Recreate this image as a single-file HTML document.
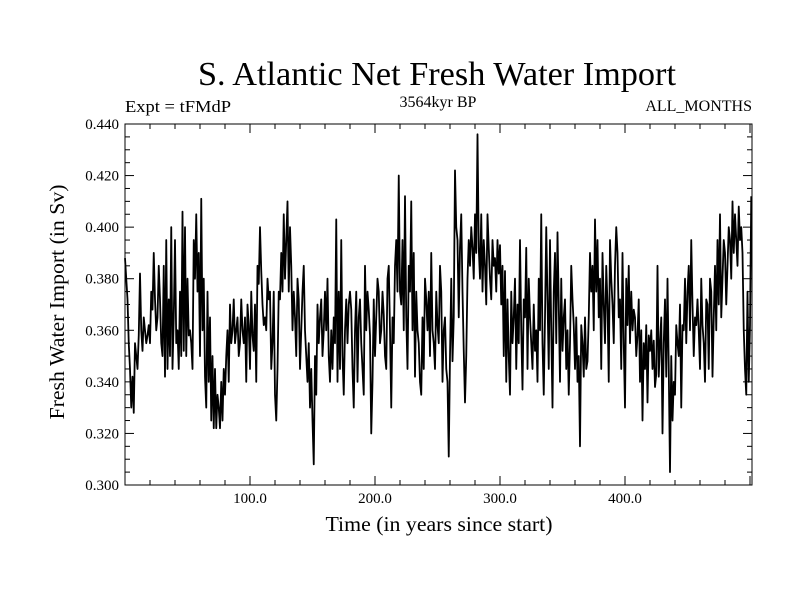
<!DOCTYPE html>
<html><head><meta charset="utf-8"><style>
body{margin:0;background:#fff;}
svg{display:block;font-family:"Liberation Serif",serif;}
</style></head><body>
<svg id="chart" width="800" height="600">
<text x="437" y="85" font-size="34" text-anchor="middle" textLength="478" lengthAdjust="spacingAndGlyphs">S. Atlantic Net Fresh Water Import</text>
<text x="125" y="112" font-size="17" textLength="106" lengthAdjust="spacingAndGlyphs">Expt = tFMdP</text>
<text x="438" y="107" font-size="16" text-anchor="middle">3564kyr BP</text>
<text x="752" y="111" font-size="16" text-anchor="end">ALL_MONTHS</text>
<text x="439" y="531" font-size="21" text-anchor="middle" textLength="227" lengthAdjust="spacingAndGlyphs">Time (in years since start)</text>
<text transform="translate(64,302) rotate(-90)" font-size="21" text-anchor="middle" textLength="235" lengthAdjust="spacingAndGlyphs">Fresh Water Import (in Sv)</text>
<g id="axes"></g>
<rect x="125" y="124" width="627" height="361" fill="none" stroke="#000" stroke-width="1"/>
</svg>
<script>
const startYear = 0;
const endYear = 501;
const xTicks = [100, 200, 300, 400];
const xTickLabels = ["100.0", "200.0", "300.0", "400.0"];
const yTicks = [0.30, 0.32, 0.34, 0.36, 0.38, 0.40, 0.42, 0.44];
const yTickLabels = ["0.300","0.320","0.340","0.360","0.380","0.400","0.420","0.440"];
const values = [
0.388,0.380,0.372,0.355,0.345,0.330,0.342,0.328,0.355,0.350,0.345,0.358,0.382,0.360,0.352,0.365,0.360,0.355,0.358,0.362,0.355,0.375,0.368,0.390,0.372,0.360,0.365,0.385,0.372,0.355,
0.350,0.385,0.342,0.395,0.345,0.372,0.350,0.400,0.345,0.365,0.395,0.355,0.360,0.345,0.375,0.350,0.406,0.352,0.400,0.350,0.380,0.358,0.360,0.355,0.345,0.395,0.380,0.405,0.375,0.390,
0.350,0.411,0.360,0.380,0.342,0.330,0.375,0.340,0.365,0.325,0.350,0.322,0.345,0.322,0.335,0.330,0.322,0.340,0.325,0.345,0.335,0.350,0.360,0.340,0.370,0.355,0.360,0.372,0.355,0.360,
0.365,0.350,0.355,0.372,0.360,0.355,0.365,0.340,0.370,0.362,0.345,0.375,0.358,0.352,0.370,0.340,0.385,0.378,0.400,0.383,0.370,0.362,0.365,0.360,0.380,0.372,0.375,0.345,0.355,0.375,
0.335,0.325,0.345,0.375,0.372,0.390,0.375,0.405,0.380,0.395,0.410,0.375,0.400,0.385,0.360,0.375,0.365,0.350,0.380,0.372,0.345,0.360,0.375,0.385,0.360,0.350,0.340,0.355,0.330,0.345,
0.325,0.308,0.350,0.335,0.370,0.355,0.365,0.372,0.350,0.360,0.375,0.360,0.380,0.350,0.340,0.360,0.345,0.365,0.355,0.403,0.340,0.375,0.345,0.395,0.350,0.335,0.360,0.372,0.355,0.370,
0.375,0.368,0.345,0.330,0.360,0.375,0.340,0.365,0.372,0.355,0.345,0.335,0.385,0.360,0.375,0.368,0.358,0.320,0.340,0.372,0.350,0.365,0.380,0.375,0.355,0.360,0.375,0.366,0.350,0.345,
0.380,0.385,0.360,0.330,0.365,0.355,0.385,0.395,0.375,0.420,0.375,0.370,0.395,0.360,0.412,0.365,0.345,0.385,0.375,0.410,0.360,0.390,0.342,0.375,0.360,0.355,0.340,0.335,0.365,0.345,
0.380,0.372,0.360,0.375,0.350,0.390,0.360,0.355,0.345,0.375,0.362,0.355,0.385,0.375,0.340,0.360,0.365,0.345,0.340,0.311,0.350,0.380,0.348,0.365,0.422,0.400,0.395,0.365,0.392,0.405,
0.375,0.352,0.332,0.350,0.380,0.395,0.385,0.400,0.392,0.380,0.405,0.390,0.436,0.392,0.380,0.405,0.375,0.395,0.385,0.370,0.405,0.392,0.380,0.372,0.395,0.385,0.388,0.375,0.395,0.382,
0.393,0.370,0.385,0.350,0.383,0.340,0.372,0.350,0.335,0.375,0.355,0.365,0.380,0.345,0.370,0.355,0.395,0.360,0.337,0.372,0.365,0.392,0.345,0.380,0.365,0.355,0.345,0.370,0.352,0.360,
0.340,0.380,0.360,0.405,0.355,0.335,0.365,0.400,0.372,0.345,0.395,0.360,0.330,0.375,0.390,0.355,0.398,0.370,0.340,0.380,0.352,0.365,0.372,0.345,0.360,0.335,0.355,0.385,0.372,0.362,
0.345,0.365,0.340,0.350,0.315,0.362,0.355,0.342,0.365,0.345,0.348,0.365,0.390,0.375,0.385,0.360,0.403,0.375,0.395,0.365,0.380,0.345,0.390,0.370,0.355,0.385,0.370,0.340,0.395,0.380,
0.370,0.355,0.385,0.400,0.390,0.365,0.372,0.345,0.390,0.355,0.330,0.380,0.362,0.385,0.355,0.375,0.360,0.368,0.365,0.350,0.358,0.372,0.340,0.360,0.325,0.355,0.345,0.362,0.332,0.358,
0.352,0.360,0.345,0.356,0.338,0.343,0.385,0.342,0.355,0.365,0.320,0.355,0.372,0.342,0.380,0.345,0.305,0.350,0.325,0.340,0.335,0.362,0.355,0.350,0.370,0.330,0.362,0.360,0.380,0.355,
0.375,0.385,0.360,0.395,0.370,0.350,0.365,0.362,0.372,0.360,0.345,0.380,0.362,0.355,0.340,0.372,0.370,0.345,0.380,0.375,0.342,0.365,0.385,0.360,0.395,0.370,0.405,0.365,0.380,0.395,
0.390,0.370,0.385,0.400,0.395,0.380,0.410,0.390,0.405,0.395,0.385,0.408,0.395,0.400,0.390,0.360,0.345,0.335,0.375,0.340,0.362,0.412
];
const NS = "http://www.w3.org/2000/svg";
const L = 125, R = 752, T = 124, B = 485;
const xMin = 0, xMax = 501.6, yMin = 0.30, yMax = 0.44;
function xs(v){ return L + (v - xMin) / (xMax - xMin) * (R - L); }
function ys(v){ return B - (v - yMin) / (yMax - yMin) * (B - T); }
const svg = document.getElementById('chart');
const axes = document.getElementById('axes');
function line(x1,y1,x2,y2,name){
  const l = document.createElementNS(NS,'line');
  l.setAttribute('x1',x1); l.setAttribute('y1',y1); l.setAttribute('x2',x2); l.setAttribute('y2',y2);
  l.setAttribute('stroke','#000'); l.setAttribute('stroke-width','1');
  
  
  axes.appendChild(l);
}
function text(x,y,s,anchor,name){
  const t = document.createElementNS(NS,'text');
  t.setAttribute('x',x); t.setAttribute('y',y); t.setAttribute('font-size','15'); t.setAttribute('text-anchor',anchor);
  t.textContent = s;
  
  
  axes.appendChild(t);
}
for (let v = 20; v < xMax; v += 20) {
  const major = v % 100 === 0;
  const len = major ? 9 : 5;
  const x = xs(v);
  line(x, B, x, B - len, 'x-tick');
  line(x, T, x, T + len, 'x-tick-top');
}
xTicks.forEach((v,i)=>{ text(xs(v), B + 18, xTickLabels[i], 'middle', 'x-tick-label'); });
for (let k = 0; k <= 28; k++) {
  const v = yMin + k * 0.005;
  const major = k % 4 === 0;
  const len = major ? 9 : 5;
  const y = ys(v);
  line(L, y, L + len, y, 'y-tick');
  line(R, y, R - len, y, 'y-tick-right');
}
yTicks.forEach((v,i)=>{ text(L - 6, ys(v) + 5, yTickLabels[i], 'end', 'y-tick-label'); });
const step = (endYear - startYear) / (values.length - 1);
const pts = values.map((v,i)=> xs(startYear + i*step).toFixed(2) + ',' + ys(v).toFixed(2)).join(' ');
const pl = document.createElementNS(NS,'polyline');
pl.setAttribute('points', pts);
pl.setAttribute('fill','none'); pl.setAttribute('stroke','#000'); pl.setAttribute('stroke-width','1.8');
pl.setAttribute('stroke-linejoin','round');


svg.appendChild(pl);
</script>
</body></html>
